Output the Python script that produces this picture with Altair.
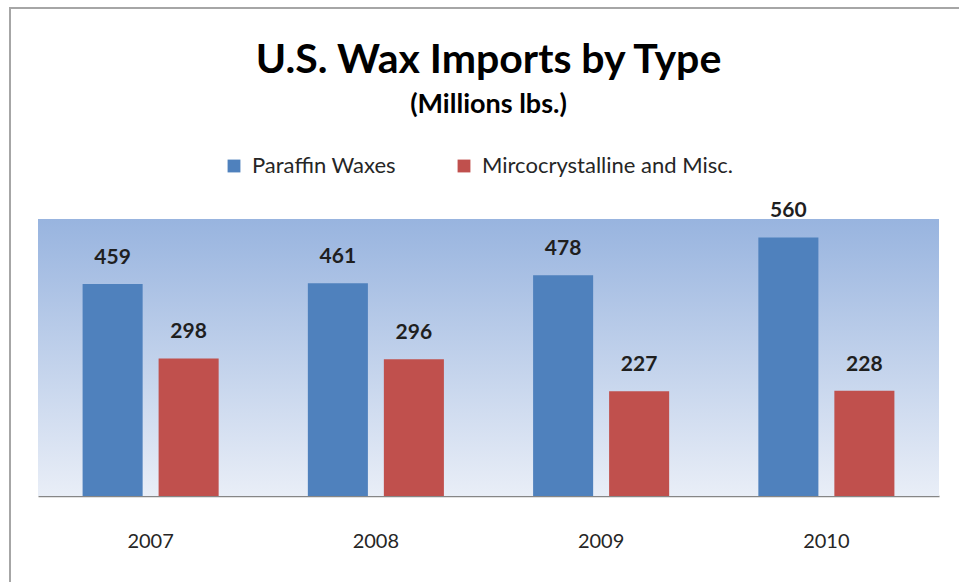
import altair as alt
import pandas as pd

years = ["2007", "2008", "2009", "2010"]
series = ["Paraffin Waxes", "Mircocrystalline and Misc."]
paraffin = [459, 461, 478, 560]
micro = [298, 296, 227, 228]
colors = ["#4F81BD", "#C0504D"]

rows = []
for i, y in enumerate(years):
    rows.append({"year": y, "type": series[0], "value": paraffin[i]})
    rows.append({"year": y, "type": series[1], "value": micro[i]})
df = pd.DataFrame(rows)

W, H = 901, 277
FONT = "Lato"

xenc = alt.X("year:N", sort=years,
             scale=alt.Scale(paddingInner=0.396, paddingOuter=0.198),
             axis=alt.Axis(title=None, labelAngle=0, ticks=False, domainColor="#868686",
                           domainWidth=1.5, labelFontSize=20, labelFont=FONT,
                           labelColor="#262626", labelPadding=35))
xoff = alt.XOffset("type:N", sort=series, scale=alt.Scale(paddingInner=0.21, paddingOuter=0))
yenc = alt.Y("value:Q", scale=alt.Scale(domain=[0, 600]), axis=None)

one = pd.DataFrame({"a": [0]})

border = alt.Chart(one).mark_rect(fill="white", fillOpacity=0, stroke="#A6A6A6",
                                  strokeWidth=2, clip=False).encode(
    x=alt.value(-28), x2=alt.value(940), y=alt.value(-211), y2=alt.value(400))

bg = alt.Chart(one).mark_rect(
    fill=alt.Gradient(gradient="linear",
                      stops=[alt.GradientStop(offset=0, color="#98B4DF"),
                             alt.GradientStop(offset=1, color="#E9EEF7")],
                      x1=0, x2=0, y1=0, y2=1)
).encode(x=alt.value(0), x2=alt.value(W), y=alt.value(0), y2=alt.value(H))

bars = alt.Chart(df).mark_bar().encode(
    x=xenc, xOffset=xoff, y=yenc,
    color=alt.Color("type:N", sort=series,
                    scale=alt.Scale(domain=series, range=colors),
                    legend=alt.Legend(title=None, orient="none", legendX=185, legendY=-64,
                                      direction="horizontal", symbolType="square",
                                      symbolSize=165, symbolStrokeWidth=0, labelOffset=7,
                                      labelFontSize=22, labelFont=FONT, labelColor="#262626",
                                      columnPadding=57, labelLimit=400))
)

labels = alt.Chart(df).mark_text(dy=-20, baseline="alphabetic", fontSize=21, font=FONT,
                                 fontWeight="bold", color="#1F1F1F").encode(
    x=alt.X("year:N", sort=years), xOffset=alt.XOffset("type:N", sort=series), y=yenc,
    text=alt.Text("value:Q"))

chart = alt.layer(border, bg, bars, labels).properties(
    width=W, height=H,
    autosize=alt.AutoSizeParams(type="none"),
    padding={"left": 38, "top": 219, "right": 20, "bottom": 86},
    background="white",
    title=alt.TitleParams(text="U.S. Wax Imports by Type", subtitle="(Millions lbs.)",
                          anchor="middle", fontSize=41, font=FONT, fontWeight="bold",
                          color="black", subtitleFont=FONT, subtitleFontSize=27,
                          subtitleFontWeight="bold", subtitleColor="black",
                          subtitlePadding=10, offset=-112)
).configure_view(strokeWidth=0)

chart.save("out.html", embed_options={"renderer": "svg", "actions": False})
